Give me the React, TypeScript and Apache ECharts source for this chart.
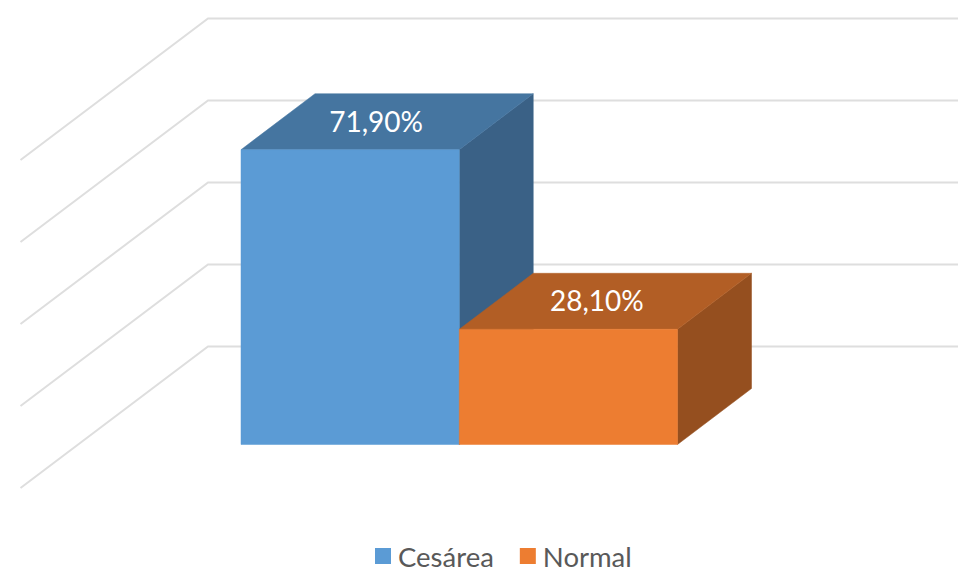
import React, { useEffect, useRef } from "react";
import * as echarts from "echarts";

const categories = ["Cesárea", "Normal"];
const values = [71.9, 28.1];
const valueLabels = ["71,90%", "28,10%"];
const gridLevels = [0, 20, 40, 60, 80];
const frontColors = ["#5B9BD5", "#ED7D31"];
const topColors = ["#4575A0", "#B25E25"];
const sideColors = ["#3A6186", "#954F1F"];

// Oblique projection of the box depth, in pixels.
const DEPTH_X = 74;
const DEPTH_Y = -56;
const LABEL_SHIFTS_X = [-11, -8.5];
const FONT = "Lato, 'Open Sans', sans-serif";

function poly(points: number[][], fill: string) {
  return { type: "polygon", shape: { points }, style: { fill, stroke: fill, lineWidth: 0.5 }, silent: true };
}

// A box: front face, top face, right side, with its value printed on the top face.
function boxRenderer(index: number) {
  return (_params: any, api: any) => {
    const top = api.coord([api.value(0), api.value(1)]);
    const bottom = api.coord([api.value(0), 0]);
    const half = api.size([1, 0])[0] / 2;
    const l = top[0] - half;
    const r = top[0] + half;
    const t = top[1];
    const b = bottom[1];
    return {
      type: "group",
      children: [
        poly([[r, t], [r + DEPTH_X, t + DEPTH_Y], [r + DEPTH_X, b + DEPTH_Y], [r, b]], sideColors[index]),
        poly([[l, t], [l + DEPTH_X, t + DEPTH_Y], [r + DEPTH_X, t + DEPTH_Y], [r, t]], topColors[index]),
        poly([[l, t], [r, t], [r, b], [l, b]], frontColors[index]),
        {
          type: "text",
          silent: true,
          style: {
            x: top[0] + DEPTH_X / 2 + LABEL_SHIFTS_X[index],
            y: t + DEPTH_Y / 2 - 1,
            text: valueLabels[index],
            fill: "#ffffff",
            font: `28px ${FONT}`,
            align: "center",
            verticalAlign: "middle",
          },
        },
      ],
    };
  };
}

// Gridline on the side wall and back wall of the plot box.
function wallRenderer(_params: any, api: any) {
  const y = api.coord([0, api.value(0)])[1];
  return {
    type: "polyline",
    silent: true,
    shape: { points: [[20.5, y + 43.5], [208, y - 98], [958, y - 98]] },
    style: { fill: "none", stroke: "#dedede", lineWidth: 2 },
  };
}

export default function App() {
  const ref = useRef<HTMLDivElement>(null);

  useEffect(() => {
    const chart = echarts.init(ref.current!, null, { renderer: "svg" });
    chart.setOption({
      animation: false,
      backgroundColor: "#ffffff",
      grid: { left: 241, top: 116.5, width: 436.5, height: 328 },
      xAxis: { type: "category", data: categories, show: false },
      yAxis: { type: "value", min: 0, max: 80, interval: 20, show: false },
      legend: {
        data: categories,
        left: 375,
        top: 542,
        padding: 0,
        icon: "rect",
        itemWidth: 16,
        itemHeight: 16,
        itemGap: 26,
        selectedMode: false,
        textStyle: { color: "#595959", fontSize: 27.5, lineHeight: 24, fontFamily: FONT, padding: [0, 0, 0, 2] },
      },
      series: [
        {
          type: "custom",
          name: "walls",
          coordinateSystem: "cartesian2d",
          clip: false,
          silent: true,
          encode: { y: 0 },
          data: gridLevels.map((v) => [v]),
          renderItem: wallRenderer,
        },
        ...categories.map((name, i) => ({
          type: "custom",
          name,
          coordinateSystem: "cartesian2d",
          clip: false,
          silent: true,
          itemStyle: { color: frontColors[i] },
          encode: { x: 0, y: 1 },
          data: [[i, values[i]]],
          renderItem: boxRenderer(i),
        })),
      ],
    });
    return () => chart.dispose();
  }, []);

  return <div ref={ref} style={{ position: "absolute", left: 0, top: 0, width: 958, height: 569 }} />;
}
